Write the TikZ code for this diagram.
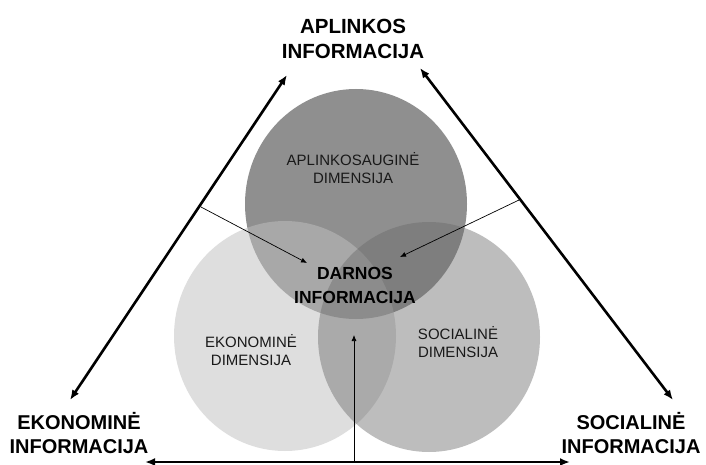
\documentclass[tikz,border=0pt]{standalone}
\usepackage{fontspec}
\setmainfont{Liberation Sans}
\usetikzlibrary{arrows.meta}

\definecolor{aplgray}{gray}{0.56}
\definecolor{ekogray}{gray}{0.75}
\definecolor{socgray}{gray}{0.41}

\begin{document}
\begin{tikzpicture}[
        x=1pt, y=-1pt,
        info/.style={font=\bfseries\fontsize{20}{23.5}\selectfont, align=center, inner sep=0pt},
        dimlabel/.style={font=\fontsize{15}{18.5}\selectfont, align=center, inner sep=0pt, text=black!90},
        bigarrow/.style={line width=2.6pt, {Latex[length=10pt,width=8pt]}-{Latex[length=10pt,width=8pt]}},
        pointer/.style={line width=0.7pt, -{Latex[length=6pt,width=5pt]}},
        ]
    \useasboundingbox (0,0) rectangle (706,465);
    % the three dimensions
    \fill[aplgray] (356,204) ellipse [x radius=111pt, y radius=115pt];
    \fill[ekogray, fill opacity=0.52] (285,336) ellipse [x radius=111pt, y radius=115pt];
    \fill[socgray, fill opacity=0.44] (429,337) ellipse [x radius=111pt, y radius=115pt];

    \node[dimlabel] (apldim) at (353,168) {APLINKOSAUGINĖ\\DIMENSIJA};
    \node[dimlabel] (ekodim) at (251,350) {EKONOMINĖ\\DIMENSIJA};
    \node[dimlabel] (socdim) at (458,342) {SOCIALINĖ\\DIMENSIJA};
    \node[info, font=\bfseries\fontsize{17.5}{24}\selectfont] (darnos) at (355,285) {DARNOS\\INFORMACIJA};

    % information corners
    \node[info, font=\bfseries\fontsize{20.5}{25}\selectfont] (apl) at (353,39) {APLINKOS\\INFORMACIJA};
    \node[info] (eko) at (79,433) {EKONOMINĖ\\INFORMACIJA};
    \node[info] (soc) at (631,433) {SOCIALINĖ\\INFORMACIJA};

    \coordinate (ekoTip) at (70,400);
    \coordinate (aplTipL) at (287,75);
    \coordinate (aplTipR) at (420,68);
    \coordinate (socTip) at (673,400);
    \coordinate (bottomL) at (145,462);
    \coordinate (bottomR) at (570,462);
    \coordinate (bottomM) at (354,462);
    \coordinate (leftFoot) at (201,207);
    \coordinate (rightFoot) at (519,200);
    \coordinate (darnosL) at (307,263);
    \coordinate (darnosR) at (400,257);
    \coordinate (darnosB) at (354,335);

    \draw[bigarrow] (ekoTip) -- (aplTipL);
    \draw[bigarrow] (aplTipR) -- (socTip);
    \draw[bigarrow] (bottomL) -- (bottomR);

    \draw[pointer] (leftFoot) -- (darnosL);
    \draw[pointer] (rightFoot) -- (darnosR);
    \draw[pointer] (bottomM) -- (darnosB);
\end{tikzpicture}
\end{document}
